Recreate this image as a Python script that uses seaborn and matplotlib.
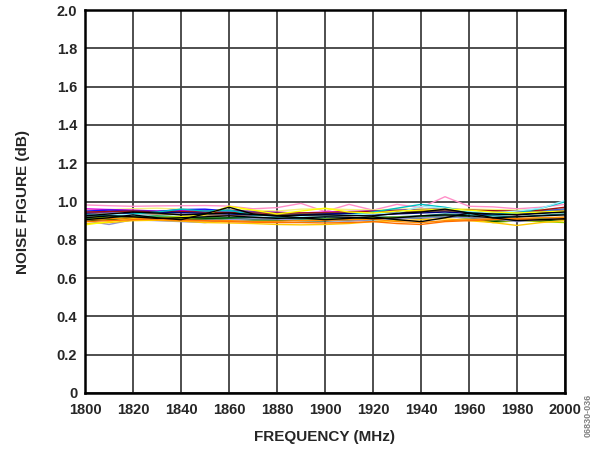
import numpy as np
import pandas as pd
import matplotlib
matplotlib.use("Agg")
import matplotlib.pyplot as plt
import seaborn as sns

# frequency points (MHz)
freq = list(range(1800, 2001, 10))

# noise figure traces (dB)
pink = [0.982,0.978,0.975,0.977,0.978,0.979,0.976,0.962,0.968,0.990,0.948,0.985,0.955,0.985,0.968,1.025,0.975,0.972,0.962,0.970,0.985]
black1 = [0.905,0.915,0.930,0.915,0.905,0.935,0.970,0.935,0.925,0.915,0.905,0.912,0.920,0.905,0.895,0.915,0.940,0.915,0.900,0.905,0.910]
black2 = [0.925,0.935,0.945,0.940,0.930,0.935,0.940,0.932,0.925,0.928,0.930,0.927,0.925,0.938,0.945,0.960,0.940,0.935,0.930,0.938,0.945]
black3 = [0.915,0.925,0.920,0.912,0.915,0.920,0.925,0.918,0.912,0.915,0.920,0.918,0.910,0.915,0.925,0.930,0.925,0.915,0.920,0.925,0.930]
blue = [0.950,0.955,0.952,0.948,0.958,0.960,0.950,0.945,0.940,0.935,0.930,0.935,0.945,0.940,0.950,0.955,0.945,0.940,0.945,0.950,0.960]
navy = [0.935,0.930,0.940,0.945,0.942,0.938,0.935,0.930,0.925,0.930,0.935,0.938,0.930,0.935,0.940,0.945,0.938,0.930,0.935,0.940,0.948]
magenta = [0.962,0.958,0.955,0.950,0.952,0.955,0.948,0.945,0.944,0.940,0.945,0.948,0.950,0.952,0.955,0.958,0.950,0.945,0.942,0.948,0.955]
darkred = [0.945,0.948,0.950,0.945,0.948,0.944,0.942,0.940,0.938,0.940,0.942,0.945,0.948,0.950,0.952,0.950,0.955,0.952,0.950,0.955,0.970]
cyan = [0.920,0.925,0.935,0.945,0.960,0.950,0.955,0.930,0.925,0.915,0.920,0.930,0.945,0.965,0.985,0.970,0.945,0.935,0.940,0.965,0.998]
lightcyan = [0.928,0.935,0.930,0.925,0.920,0.915,0.910,0.912,0.918,0.922,0.925,0.930,0.935,0.940,0.975,0.965,0.950,0.940,0.950,0.965,1.005]
darkgreen = [0.900,0.905,0.915,0.910,0.905,0.910,0.915,0.910,0.905,0.900,0.898,0.905,0.912,0.910,0.915,0.920,0.918,0.895,0.905,0.900,0.905]
green = [0.910,0.912,0.918,0.925,0.920,0.915,0.910,0.905,0.900,0.905,0.902,0.900,0.905,0.910,0.920,0.925,0.918,0.900,0.905,0.910,0.915]
orange = [0.895,0.900,0.905,0.910,0.905,0.900,0.895,0.892,0.890,0.890,0.888,0.890,0.895,0.885,0.880,0.895,0.900,0.905,0.908,0.905,0.910]
darkorange = [0.905,0.910,0.915,0.905,0.900,0.898,0.900,0.895,0.897,0.900,0.902,0.905,0.908,0.895,0.890,0.900,0.905,0.910,0.912,0.915,0.918]
yellow = [0.878,0.895,0.910,0.915,0.920,0.930,0.975,0.955,0.935,0.950,0.965,0.945,0.940,0.950,0.955,0.960,0.955,0.945,0.940,0.945,0.950]
gold = [0.885,0.890,0.900,0.902,0.898,0.890,0.888,0.885,0.880,0.878,0.880,0.885,0.895,0.900,0.905,0.910,0.900,0.890,0.875,0.890,0.900]
lavender = [0.900,0.880,0.905,0.900,0.895,0.890,0.905,0.910,0.908,0.902,0.900,0.898,0.905,0.910,0.915,0.920,0.915,0.910,0.895,0.905,0.915]
purple = [0.940,0.945,0.950,0.948,0.945,0.950,0.955,0.948,0.942,0.938,0.940,0.945,0.950,0.955,0.958,0.962,0.955,0.945,0.930,0.945,0.950]
yellowgreen = [0.915,0.918,0.920,0.918,0.912,0.915,0.910,0.905,0.902,0.905,0.908,0.910,0.915,0.918,0.920,0.925,0.910,0.890,0.900,0.895,0.890]
teal = [0.930,0.925,0.920,0.918,0.915,0.912,0.915,0.918,0.915,0.910,0.912,0.915,0.918,0.920,0.925,0.935,0.930,0.925,0.920,0.928,0.935]
gray = [0.920,0.918,0.915,0.912,0.910,0.908,0.905,0.902,0.900,0.902,0.905,0.908,0.910,0.912,0.915,0.918,0.915,0.910,0.908,0.912,0.918]
brown = [0.932,0.936,0.938,0.935,0.932,0.930,0.928,0.930,0.932,0.935,0.938,0.940,0.942,0.945,0.948,0.950,0.946,0.942,0.940,0.945,0.950]
royalblue = [0.945,0.940,0.935,0.938,0.942,0.945,0.948,0.945,0.940,0.936,0.935,0.940,0.944,0.948,0.952,0.955,0.950,0.946,0.944,0.950,0.958]
khaki = [0.955,0.958,0.962,0.965,0.960,0.955,0.958,0.955,0.950,0.960,0.962,0.958,0.955,0.960,0.962,0.965,0.960,0.958,0.955,0.958,0.962]

traces = {
    "pink": (pink, "#ff8fc8"),
    "khaki": (khaki, "#f5f07a"),
    "magenta": (magenta, "#e000e0"),
    "blue": (blue, "#1010ff"),
    "royalblue": (royalblue, "#4a7fd0"),
    "purple": (purple, "#7030a0"),
    "darkred": (darkred, "#a01010"),
    "brown": (brown, "#8b5a2b"),
    "navy": (navy, "#000080"),
    "cyan": (cyan, "#00c0c0"),
    "lightcyan": (lightcyan, "#9ff0ff"),
    "teal": (teal, "#008080"),
    "gray": (gray, "#808080"),
    "yellowgreen": (yellowgreen, "#a8d000"),
    "green": (green, "#20a040"),
    "darkgreen": (darkgreen, "#005000"),
    "lavender": (lavender, "#9090d0"),
    "gold": (gold, "#ffc800"),
    "yellow": (yellow, "#ffff00"),
    "darkorange": (darkorange, "#ff9000"),
    "orange": (orange, "#ff7000"),
    "black3": (black3, "#000000"),
    "black2": (black2, "#000000"),
    "black1": (black1, "#000000"),
}

rows = []
for name, (vals, col) in traces.items():
    for f, v in zip(freq, vals):
        rows.append({"freq": f, "nf": v, "trace": name})
df = pd.DataFrame(rows)
palette = {name: col for name, (vals, col) in traces.items()}

sns.set_style("white")
plt.rcParams['font.family'] = ['Liberation Sans', 'DejaVu Sans']
plt.rcParams['font.weight'] = 'bold'

fig = plt.figure(figsize=(5.95, 4.49), dpi=100)
ax = fig.add_axes([85/595, 1-393/449, 480/595, 383/449])

sns.lineplot(data=df, x="freq", y="nf", hue="trace", palette=palette,
             linewidth=1.0, legend=False, ax=ax, zorder=3)

ax.set_xlim(1800, 2000)
ax.set_ylim(0, 2.0)
ax.set_xticks(np.arange(1800, 2001, 20))
ax.set_yticks(np.arange(0, 2.01, 0.2))
ax.set_yticklabels(["0"] + ["%.1f" % v for v in np.arange(0.2, 2.01, 0.2)])
ax.tick_params(length=0, labelsize=10.5)
ax.tick_params(axis='x', pad=7)
ax.tick_params(axis='y', pad=5.5)
for lab in ax.get_xticklabels() + ax.get_yticklabels():
    lab.set_fontweight('bold')
ax.grid(True, color="#404040", linewidth=1.3, zorder=1)
ax.set_axisbelow(True)
for sp in ax.spines.values():
    sp.set_color("black")
    sp.set_linewidth(1.8)
    sp.set_zorder(5)

ax.set_xlabel("FREQUENCY (MHz)", fontsize=11, fontweight='bold')
ax.set_ylabel("NOISE FIGURE (dB)", fontsize=11, fontweight='bold')
ax.xaxis.set_label_coords(0.5, -0.0966)
ax.yaxis.set_label_coords(-0.1146, 0.5)

fig.text(0.989, 0.075, "06830-036", rotation=90, fontsize=6.5, color="#808080",
         ha="center", va="center")

fig.savefig("out.png", dpi=100)
